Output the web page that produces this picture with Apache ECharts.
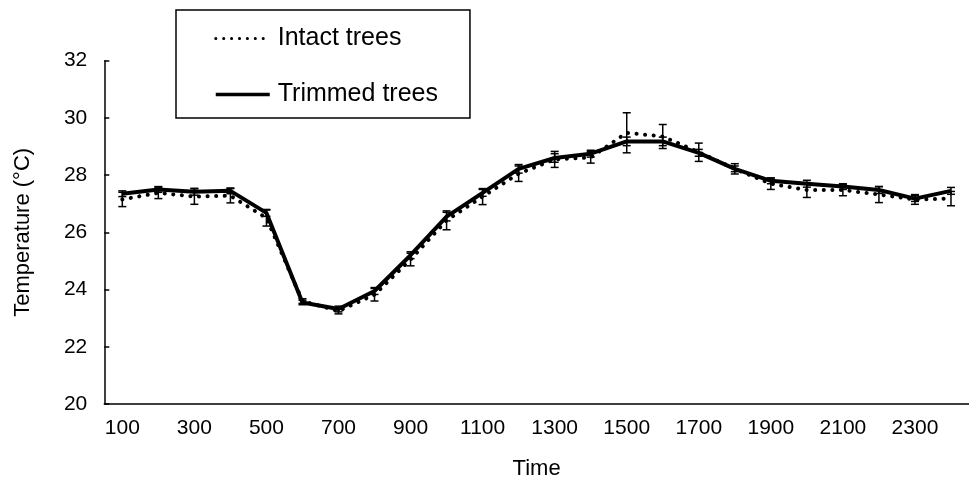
<!DOCTYPE html>
<html>
<head>
<meta charset="utf-8">
<script src="https://cdn.jsdelivr.net/npm/echarts@6/dist/echarts.min.js"></script>
<style>
  html, body { margin: 0; padding: 0; background: #fff; }
  #chart { width: 969px; height: 485px; }
</style>
</head>
<body>
<div id="chart"></div>
<script>
// time of day (hhmm), one reading per hour
var times = ['100', '200', '300', '400', '500', '600', '700', '800', '900', '1000', '1100', '1200',
    '1300', '1400', '1500', '1600', '1700', '1800', '1900', '2000', '2100', '2200', '2300', '2400'];

var intact = [27.15, 27.38, 27.25, 27.28, 26.5, 23.6, 23.25, 23.82, 25.05, 26.42, 27.25, 28.05,
    28.55, 28.62, 29.48, 29.35, 28.8, 28.22, 27.7, 27.48, 27.48, 27.32, 27.15, 27.18];
var intactErr = [0.25, 0.2, 0.27, 0.25, 0.28, 0.08, 0.1, 0.22, 0.22, 0.33, 0.28, 0.27,
    0.28, 0.2, 0.7, 0.42, 0.32, 0.18, 0.2, 0.26, 0.2, 0.28, 0.17, 0.25];

var trimmed = [27.35, 27.5, 27.42, 27.45, 26.68, 23.55, 23.32, 23.95, 25.2, 26.55, 27.38, 28.22,
    28.6, 28.75, 29.18, 29.18, 28.78, 28.22, 27.8, 27.7, 27.6, 27.48, 27.18, 27.45];
var trimmedErr = [0.1, 0.1, 0.12, 0.1, 0.12, 0.08, 0.1, 0.12, 0.12, 0.15, 0.12, 0.15,
    0.15, 0.12, 0.15, 0.15, 0.12, 0.1, 0.1, 0.12, 0.1, 0.12, 0.1, 0.12];

var yTicks = { min: 20, max: 32, step: 2 };

var FONT = '"Liberation Sans", Arial, Helvetica, sans-serif';

function errData(vals, errs) {
    var out = [];
    for (var i = 0; i < vals.length; i++) {
        out.push([i, vals[i] - errs[i], vals[i] + errs[i]]);
    }
    return out;
}

function renderErr(params, api) {
    var lo = api.coord([api.value(0), api.value(1)]);
    var hi = api.coord([api.value(0), api.value(2)]);
    var w = 4;
    var st = { stroke: '#000', lineWidth: 1.5 };
    return {
        type: 'group',
        children: [
            { type: 'line', shape: { x1: hi[0], y1: hi[1], x2: lo[0], y2: lo[1] }, style: st },
            { type: 'line', shape: { x1: hi[0] - w, y1: hi[1], x2: hi[0] + w, y2: hi[1] }, style: st },
            { type: 'line', shape: { x1: lo[0] - w, y1: lo[1], x2: lo[0] + w, y2: lo[1] }, style: st }
        ]
    };
}

var option = {
    animation: false,
    backgroundColor: '#fff',
    textStyle: { fontFamily: FONT, color: '#000' },
    grid: { left: 104.3, top: 60.7, height: 346, width: 867 },
    legend: {
        data: [
            { name: 'Intact trees', lineStyle: { width: 3, type: [0.1, 7.8], cap: 'round' } },
            { name: 'Trimmed trees', lineStyle: { width: 3.5 } }
        ],
        orient: 'vertical',
        left: 176,
        top: 10,
        padding: [16, 32, 11, 38],
        itemWidth: 54,
        itemHeight: 24,
        itemGap: 31,
        borderColor: '#000',
        borderWidth: 1.5,
        borderRadius: 0,
        itemStyle: { opacity: 0 },
        textStyle: { fontFamily: FONT, fontSize: 25, color: '#000', lineHeight: 24, padding: [0, 0, 0, 3] }
    },
    xAxis: {
        type: 'category',
        data: times,
        boundaryGap: true,
        name: 'Time',
        nameLocation: 'middle',
        nameGap: 54,
        nameTextStyle: { fontFamily: FONT, fontSize: 22, color: '#000' },
        axisLine: { lineStyle: { color: '#000', width: 1.5 } },
        axisTick: { inside: true, length: 5, interval: 1, lineStyle: { color: '#000', width: 1.5 } },
        axisLabel: { interval: 1, margin: 14, fontFamily: FONT, fontSize: 21, color: '#000' },
        splitLine: { show: false }
    },
    yAxis: {
        type: 'value',
        min: yTicks.min,
        max: yTicks.max,
        interval: yTicks.step,
        name: 'Temperature (°C)',
        nameLocation: 'middle',
        nameGap: 70,
        nameTextStyle: { fontFamily: FONT, fontSize: 22, color: '#000' },
        axisLine: { show: true, lineStyle: { color: '#000', width: 1.5 } },
        axisTick: { show: true, inside: true, length: 5, lineStyle: { color: '#000', width: 1.5 } },
        axisLabel: { margin: 17, fontFamily: FONT, fontSize: 21, color: '#000' },
        splitLine: { show: false }
    },
    series: [
        {
            name: 'Intact trees',
            type: 'line',
            data: intact,
            symbol: 'none',
            itemStyle: { color: '#000' },
            lineStyle: { color: '#000', width: 4, type: [0.1, 8.5], cap: 'round' },
            z: 2
        },
        {
            name: 'intact-err',
            type: 'custom',
            data: errData(intact, intactErr),
            renderItem: renderErr,
            z: 3
        },
        {
            name: 'Trimmed trees',
            type: 'line',
            data: trimmed,
            symbol: 'none',
            itemStyle: { color: '#000' },
            lineStyle: { color: '#000', width: 4 },
            z: 4
        },
        {
            name: 'trimmed-err',
            type: 'custom',
            data: errData(trimmed, trimmedErr),
            renderItem: renderErr,
            z: 5
        }
    ]
};

var chart = echarts.init(document.getElementById('chart'));
chart.setOption(option);
</script>
</body>
</html>
